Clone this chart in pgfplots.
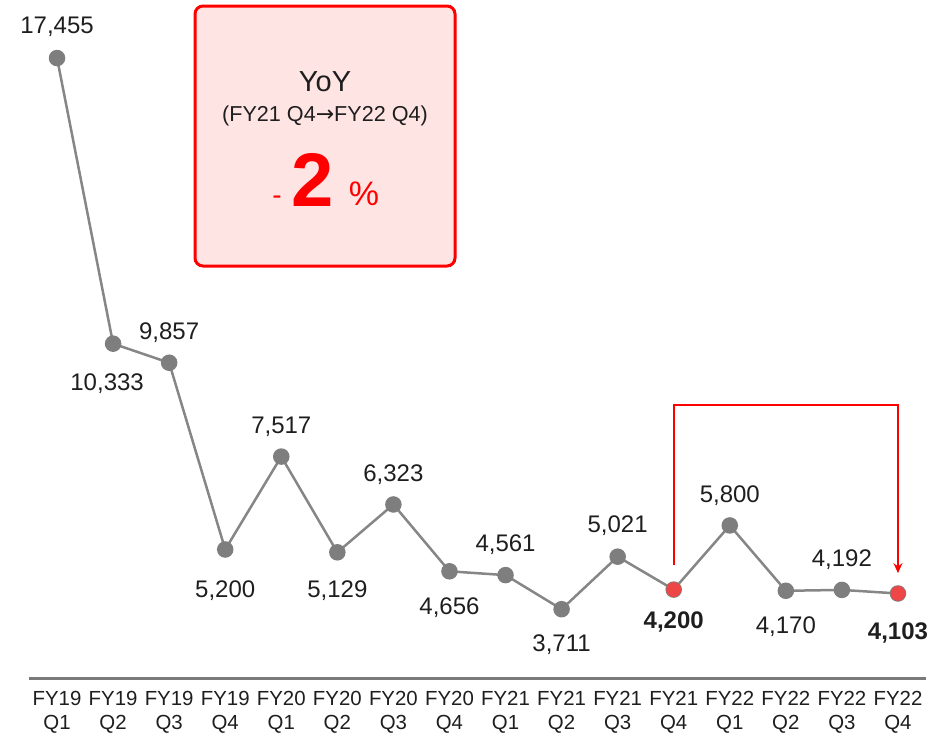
\documentclass[border=0pt]{standalone}
\usepackage{fontspec}
\setmainfont{Liberation Sans}
\newfontfamily\dejavu{DejaVu Sans}
\usepackage{pgfplots}
\pgfplotsset{compat=1.18}
\usetikzlibrary{arrows.meta}
\definecolor{lgray}{HTML}{868686}
\definecolor{mgray}{HTML}{7E7E7E}
\definecolor{redpt}{HTML}{EE4646}
\definecolor{boxfill}{HTML}{FFE4E4}
\definecolor{txt}{HTML}{1E1E1E}
\definecolor{axgray}{HTML}{7A7A7A}
\newcommand{\lbl}[4]{\node[anchor=base, text=txt, font=\fontsize{12}{14}\selectfont, yshift=#3pt] at (axis cs:#1,#2) {#4};}
\begin{document}
\begin{tikzpicture}
\useasboundingbox (0,0) rectangle (476pt,368pt);
\begin{axis}[
  at={(14.5pt,29pt)}, anchor=south west,
  scale only axis, width=448.5pt, height=339pt,
  xmin=-0.5, xmax=15.5, ymin=1995, ymax=18903,
  axis x line=bottom, axis y line=none,
  x axis line style={-, axgray, line width=1.5pt},
  xtick={0,...,15},
  xticklabels={{FY19\\Q1},{FY19\\Q2},{FY19\\Q3},{FY19\\Q4},{FY20\\Q1},{FY20\\Q2},{FY20\\Q3},{FY20\\Q4},{FY21\\Q1},{FY21\\Q2},{FY21\\Q3},{FY21\\Q4},{FY22\\Q1},{FY22\\Q2},{FY22\\Q3},{FY22\\Q4}},
  x tick label style={font=\fontsize{10.2}{11.6}\selectfont, align=center, text=txt, yshift=-3.3pt},
  major tick length=0pt,
  ytick=\empty,
  clip=false,
]
\addplot[lgray, line width=1.25pt, mark=*, mark size=3.5pt, mark options={draw=mgray, fill=mgray}] coordinates {
(0,17455) (1,10333) (2,9857) (3,5200) (4,7517) (5,5129) (6,6323) (7,4656)
(8,4561) (9,3711) (10,5021) (11,4200) (12,5800) (13,4170) (14,4192) (15,4103)};
\addplot[only marks, mark=*, mark size=3.5pt, draw=redpt, fill=redpt] coordinates {(11,4200) (15,4103)};
\draw[red, line width=1pt, -{Stealth[length=5pt,width=4.5pt]}] (axis cs:11,4809) -- (axis cs:11,8800) -- (axis cs:15,8800) -- (axis cs:15,4610);
\lbl{0}{17455}{12.2}{17,455}
\node[anchor=base, text=txt, font=\fontsize{12}{14}\selectfont, yshift=-23.3pt, xshift=-3pt] at (axis cs:1,10333) {10,333};
\lbl{2}{9857}{11.7}{9,857}
\lbl{3}{5200}{-23.8}{5,200}
\lbl{4}{7517}{11.7}{7,517}
\lbl{5}{5129}{-22.8}{5,129}
\lbl{6}{6323}{11.7}{6,323}
\lbl{7}{4656}{-21.8}{4,656}
\lbl{8}{4561}{11.7}{4,561}
\lbl{9}{3711}{-21.3}{3,711}
\lbl{10}{5021}{12.2}{5,021}
\lbl{11}{4200}{-19.3}{\bfseries 4,200}
\lbl{12}{5800}{11.7}{5,800}
\lbl{13}{4170}{-21.3}{4,170}
\lbl{14}{4192}{11.7}{4,192}
\lbl{15}{4103}{-22.8}{\bfseries 4,103}
\end{axis}
\draw[red, line width=1.5pt, fill=boxfill, rounded corners=4pt] (97.5pt,235pt) rectangle (227.5pt,365pt);
\node[text=txt, font=\fontsize{14.5}{16}\selectfont] at (162.5pt,327pt) {YoY};
\node[text=txt, font=\fontsize{10.8}{12}\selectfont] at (162.5pt,310pt) {(FY21 Q4{\dejavu\fontsize{11}{12}\selectfont →}FY22 Q4)};
\node[red, font=\bfseries\fontsize{38}{40}\selectfont] at (156.5pt,278pt) {2};
\node[red, anchor=base, font=\fontsize{17}{19}\selectfont] at (182pt,265.4pt) {\%};
\node[red, anchor=base, font=\fontsize{14}{16}\selectfont] at (138.5pt,266pt) {-};
\end{tikzpicture}
\end{document}
